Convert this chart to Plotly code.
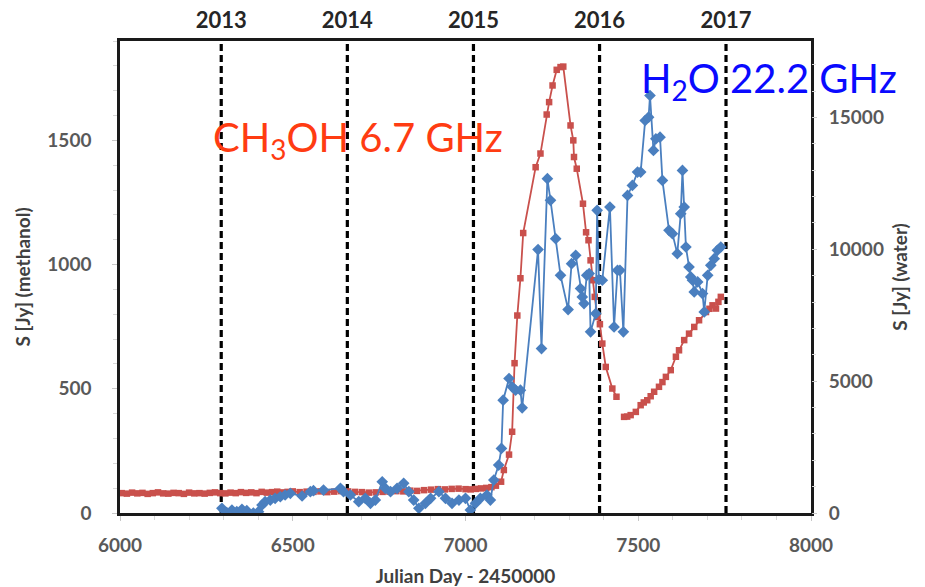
import plotly.graph_objects as go

# ---------------- data ----------------
# CH3OH 6.7 GHz (left axis, Jy) vs Julian Day - 2450000
meth_jd = [6005, 6020, 6035, 6050, 6065, 6080, 6095, 6110, 6125, 6140, 6155, 6170, 6185, 6200,
           6215, 6230, 6245, 6260, 6275, 6290, 6305, 6320, 6335, 6350, 6365, 6380, 6395, 6410,
           6425, 6440, 6455, 6470, 6485, 6500, 6520, 6540, 6560, 6580, 6600, 6620, 6640, 6660,
           6680, 6700, 6720, 6740, 6760, 6780, 6800, 6820, 6840, 6860, 6880, 6900, 6920, 6940,
           6960, 6980, 7000, 7015, 7030, 7045, 7060, 7075, 7088,
           7103, 7111, 7126, 7135, 7142, 7150, 7159, 7167, 7203, 7217, 7235, 7242, 7252, 7264,
           7275, 7283, 7304, 7312, 7314, 7322, 7340, 7349, 7356, 7362, 7368, 7374, 7382, 7389,
           7396, 7406, 7425, 7437, 7448,
           7459, 7468, 7478, 7493, 7507, 7516, 7526, 7536, 7546, 7560, 7570, 7580, 7594, 7609,
           7618, 7633, 7647, 7662, 7676, 7696, 7706, 7715, 7725, 7732, 7739]
meth_flux = [80, 78, 82, 79, 81, 77, 80, 83, 79, 78, 81, 80, 77, 82, 79, 80, 78, 81, 83, 80,
             79, 82, 80, 84, 81, 83, 80, 85, 82, 84, 86, 83, 85, 87, 84, 86, 85, 87, 84, 86,
             88, 87, 85, 84, 82, 83, 85, 86, 88, 87, 90, 89, 92, 94, 96, 95, 97, 98, 96, 95,
             97, 99, 101, 104, 110,
             126, 173, 235, 327, 603, 795, 945, 1127, 1392, 1447, 1604, 1654, 1721, 1784,
             1795, 1797, 1560, 1500, 1433, 1386, 1245, 1130, 1098, 1017, 937, 870, 789, 760,
             682, 588, 501, 468, None,
             387, 388, 394, 407, 434, 445, 454, 470, 488, 508, 527, 548, 575, 629,
             655, 696, 722, 749, 776, 809, 822, 836, 823, 850, 870]

# H2O 22.2 GHz (right axis, Jy)
water_jd = [6295, 6309, 6324, 6338, 6353, 6367, 6386, 6401, 6411, 6420, 6435, 6449, 6464, 6478,
            6493, 6527, 6551, 6560, 6589, 6638, 6647, 6667, 6691, 6710, 6725, 6739, 6759, 6768,
            6783, 6802, 6821, 6836, 6850, 6865, 6884, 6899, 6923, 6942, 6961, 6981, 7000, 7014,
            7029, 7043, 7062, 7072, 7082, 7096, 7104, 7109, 7126, 7135, 7145, 7159, 7164, 7210,
            7220, 7237, 7246, 7261, 7275, 7297, 7307, 7319, 7333, 7338, 7343, 7351, 7358, 7362,
            7377, 7381, 7386, 7396, 7418, 7430, 7440, 7447, 7457, 7469, 7483, 7498, 7507, 7520,
            7530, 7534, 7544, 7551, 7563, 7570, 7589, 7599, 7613, 7623, 7628, 7633, 7638, 7647,
            7652, 7657, 7662, 7672, 7686, 7691, 7701, 7710, 7720, 7729, 7739]
water_flux = [178, 11, 114, 50, 140, 87, 0, 50, 303, 428, 492, 556, 617, 682,
              746, 644, 807, 845, 871, 936, 807, 682, 428, 556, 367, 492, 1186, 936,
              807, 936, 1125, 807, 492, 178, 367, 556, 807, 556, 367, 492, 556, 114,
              367, 556, 682, 492, 1250, 1818, 2449, 4280, 5100, 4785, 4659, 4659, 3990, 9990,
              6237, 12677, 11856, 10405, 9015, 7714, 9457, 9773, 8510, 8194, 7942, 9015, 9078, 6869,
              7564, 11477, 8851, 8826, 11602, 7058, 9205, 9205, 6869, 12045, 12424, 12929, 12929, 14886,
              15013, 15833, 13750, 14192, 14254, 12614, 10720, 10594, 9836, 11352, 12992, 11602, 10087, 9330,
              8951, 8826, 8384, 8763, 8321, 7625, 9015, 9394, 9646, 9962, 10087]

# year boundaries (JD - 2450000 of 1 January)
year_jd = [6293, 6658, 7023, 7388, 7754]
year_labels = ["2013", "2014", "2015", "2016", "2017"]

x_ticks = [6000, 6500, 7000, 7500, 8000]
left_ticks = [0, 500, 1000, 1500]
right_ticks = [0, 5000, 10000, 15000]

# ---------------- figure ----------------
RED = "#c9504c"
BLUE = "#4a7fbf"
FAM = "Lato, Carlito, sans-serif"
TICKFONT = dict(family=FAM, size=19, color="#595959", weight="bold")
TITLEFONT = dict(family=FAM, size=19, color="#404040", weight="bold")

fig = go.Figure()
fig.add_trace(go.Scatter(
    x=meth_jd, y=meth_flux, mode="lines+markers", name="CH3OH",
    line=dict(color=RED, width=1.8), connectgaps=False,
    marker=dict(symbol="square", size=6.5, color=RED),
    xaxis="x", yaxis="y"))
fig.add_trace(go.Scatter(
    x=water_jd, y=water_flux, mode="lines+markers", name="H2O",
    line=dict(color=BLUE, width=1.8),
    marker=dict(symbol="diamond", size=9, color=BLUE),
    xaxis="x", yaxis="y2"))

# invisible trace to activate the top year axis
fig.add_trace(go.Scatter(x=[x_ticks[0], x_ticks[-1]], y=[0, 0], mode="markers",
                         marker=dict(opacity=0), xaxis="x2", yaxis="y",
                         showlegend=False, hoverinfo="skip"))

for xv in year_jd:
    fig.add_shape(type="line", xref="x", yref="paper", x0=xv, x1=xv, y0=0, y1=1,
                  line=dict(color="black", width=3.2, dash="7px,4px"), layer="below")

fig.update_layout(
    width=925, height=587,
    margin=dict(l=120, r=114, t=41, b=74),
    paper_bgcolor="white", plot_bgcolor="white",
    showlegend=False,
    xaxis=dict(range=[x_ticks[0], x_ticks[-1]], tickvals=x_ticks, automargin=False,
               showgrid=False, zeroline=False,
               showline=True, linecolor="#1a1a1a", linewidth=2.5, mirror=True,
               ticks="outside", ticklen=5, tickcolor="#c8c8c8",
               minor=dict(dtick=100, ticks="outside", ticklen=4, tickcolor="#d8d8d8"),
               tickfont=TICKFONT, ticklabelstandoff=8,
               title=dict(text="Julian Day - 2450000", font=TITLEFONT, standoff=17)),
    xaxis2=dict(overlaying="x", side="top", range=[x_ticks[0], x_ticks[-1]], automargin=False,
                tickvals=year_jd, ticktext=year_labels,
                showgrid=False, zeroline=False, showline=False,
                ticks="", tickfont=dict(family=FAM, size=22, color="#262626", weight="bold"),
                ticklabelstandoff=8),
    yaxis=dict(range=[0, 1900], tickvals=left_ticks, automargin=False,
               showgrid=False, zeroline=False,
               showline=True, linecolor="#1a1a1a", linewidth=2.5, mirror=True,
               ticks="outside", ticklen=5, tickcolor="#c8c8c8",
               minor=dict(dtick=100, ticks="outside", ticklen=4, tickcolor="#d8d8d8"),
               tickfont=TICKFONT, ticklabelstandoff=17,
               title=dict(text="S [Jy] (methanol)", font=TITLEFONT, standoff=12)),
    yaxis2=dict(overlaying="y", side="right", range=[0, 17900], tickvals=right_ticks,
                tickformat="d", automargin=False,
                showgrid=False, zeroline=False, showline=False,
                ticks="outside", ticklen=5, tickcolor="#c8c8c8",
                minor=dict(dtick=1000, ticks="outside", ticklen=4, tickcolor="#d8d8d8"),
                tickfont=TICKFONT, ticklabelstandoff=8,
                title=dict(text="S [Jy] (water)", font=TITLEFONT, standoff=10)),
)

fig.add_annotation(x=6262, y=1505, xref="x", yref="y", xanchor="left", yanchor="middle",
                   text="CH<sub>3</sub>OH 6.7 GHz", showarrow=False,
                   font=dict(family="Lato", size=40, color="#ff3c12"))
fig.add_annotation(x=7502, y=1740, xref="x", yref="y", xanchor="left", yanchor="middle",
                   text="H<sub>2</sub>O 22.2 GHz", showarrow=False,
                   font=dict(family="Lato", size=40, color="#0a0aff"))

fig.write_html("out.html")
